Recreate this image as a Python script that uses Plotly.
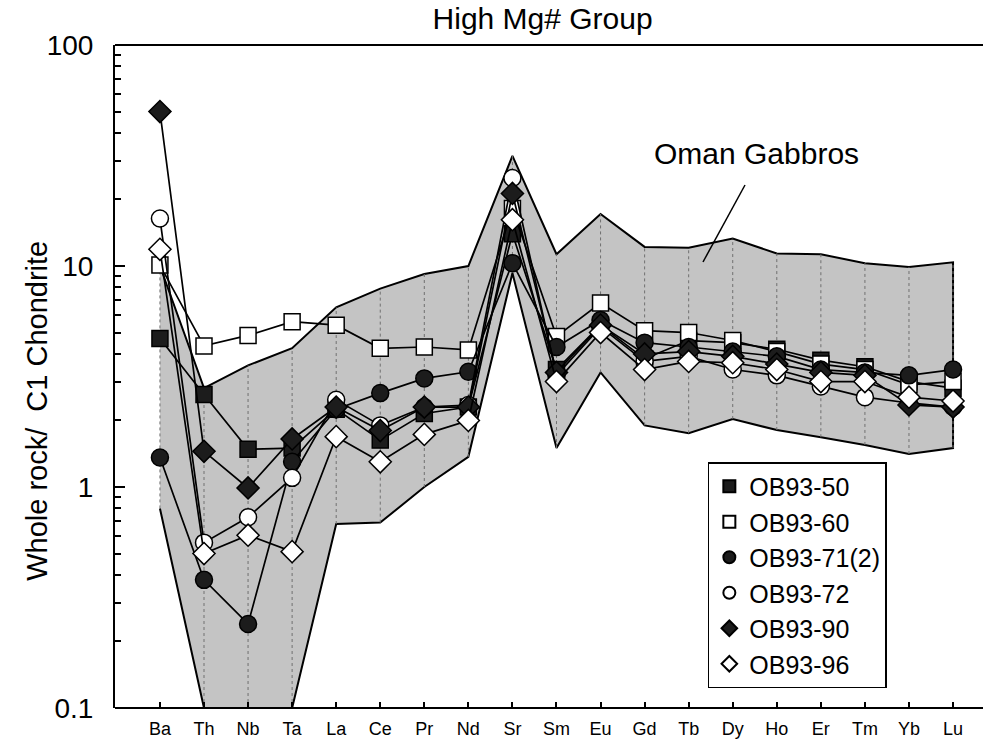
import plotly.graph_objects as go

# Chondrite-normalised trace-element patterns, High Mg# group
elements = ["Ba", "Th", "Nb", "Ta", "La", "Ce", "Pr", "Nd", "Sr", "Sm",
            "Eu", "Gd", "Tb", "Dy", "Ho", "Er", "Tm", "Yb", "Lu"]

# Oman gabbro envelope (upper and lower bounds)
oman_upper = [10.0, 2.8, 3.55, 4.25, 6.5, 7.9, 9.2, 10.0, 31.5, 11.3,
              17.2, 12.2, 12.1, 13.3, 11.4, 11.3, 10.3, 9.9, 10.4]
oman_lower = [0.8, 0.1, 0.1, 0.1, 0.68, 0.69, 1.0, 1.37, 9.3, 1.5,
              3.3, 1.9, 1.75, 2.03, 1.81, 1.68, 1.55, 1.41, 1.5]

ob93_50 = [4.7, 2.62, 1.48, 1.5, 2.25, 1.63, 2.15, 2.3, 14.0, 3.4,
           5.4, 3.8, 4.6, 4.5, 4.2, 3.75, 3.5, 3.0, 2.8]
ob93_60 = [10.1, 4.35, 4.85, 5.6, 5.4, 4.24, 4.3, 4.17, 18.2, 4.8,
           6.8, 5.1, 5.0, 4.6, 4.1, 3.6, 3.4, 2.9, 3.0]
ob93_71_2 = [1.36, 0.38, 0.24, 1.3, 2.25, 2.66, 3.1, 3.32, 10.3, 4.3,
             5.7, 4.5, 4.3, 4.1, 3.9, 3.4, 3.3, 3.2, 3.4]
ob93_72 = [16.4, 0.56, 0.73, 1.1, 2.48, 1.9, 2.3, 2.35, 25.0, 3.2,
           5.3, 3.7, 3.9, 3.4, 3.2, 2.85, 2.55, 2.4, 2.3]
ob93_90 = [50.0, 1.45, 0.99, 1.65, 2.3, 1.8, 2.3, 2.3, 21.3, 3.3,
           5.4, 4.0, 4.1, 3.9, 3.6, 3.3, 3.2, 2.35, 2.3]
ob93_96 = [11.9, 0.5, 0.605, 0.51, 1.69, 1.3, 1.73, 2.0, 16.2, 3.0,
           5.0, 3.4, 3.7, 3.65, 3.4, 3.0, 3.0, 2.55, 2.45]

samples = [
    ("OB93-50", ob93_50, "square", "#1c1c1c"),
    ("OB93-60", ob93_60, "square", "white"),
    ("OB93-71(2)", ob93_71_2, "circle", "#1c1c1c"),
    ("OB93-72", ob93_72, "circle", "white"),
    ("OB93-90", ob93_90, "diamond", "#1c1c1c"),
    ("OB93-96", ob93_96, "diamond", "white"),
]
marker_size = {"square": 16, "circle": 17, "diamond": 17}

FONT = "Liberation Sans, Arial, Helvetica, sans-serif"
BAND_FILL = "#c4c4c4"

fig = go.Figure()

# Envelope polygon: upper bound left-to-right, lower bound back again
fig.add_trace(go.Scatter(
    x=elements + elements[::-1],
    y=oman_upper + oman_lower[::-1],
    mode="lines", fill="toself", fillcolor=BAND_FILL,
    line=dict(color="black", width=2),
    hoverinfo="skip", showlegend=False,
))

# Thin dotted verticals across the envelope at each element
for el, lo, hi in zip(elements, oman_lower, oman_upper):
    fig.add_trace(go.Scatter(
        x=[el, el], y=[lo, hi], mode="lines",
        line=dict(color="#707070", width=1, dash="dot"),
        hoverinfo="skip", showlegend=False,
    ))

# Sample patterns
for name, vals, sym, fill in samples:
    fig.add_trace(go.Scatter(
        x=elements, y=vals, mode="lines+markers", name=name,
        line=dict(color="black", width=1.7),
        marker=dict(symbol=sym, size=marker_size[sym], color=fill,
                    line=dict(color="black", width=1.5)),
        showlegend=False,
    ))

# Marker-only legend entries
for name, vals, sym, fill in samples:
    fig.add_trace(go.Scatter(
        x=[None], y=[None], mode="markers", name=name, legendgroup=name,
        marker=dict(symbol=sym, size=14, color=fill,
                    line=dict(color="black", width=1.5)),
    ))

minor_vals = ([k / 10 for k in range(2, 10)] + list(range(2, 10))
              + [k * 10 for k in range(2, 10)])

fig.update_layout(
    width=983, height=746,
    margin=dict(l=115, r=0, t=45, b=38),
    paper_bgcolor="white", plot_bgcolor="white",
    font=dict(family=FONT, color="black"),
    title=dict(text="High Mg# Group", x=0.552, xanchor="center",
               y=1 - 18 / 746, yanchor="middle", font=dict(size=30)),
    xaxis=dict(
        type="category", categoryorder="array", categoryarray=elements,
        range=[-1.02, 18.68], showgrid=False, zeroline=False,
        showline=False, mirror=False,
        ticks="inside", ticklen=6, tickwidth=1.5, tickcolor="black",
        tickfont=dict(size=18), ticklabelstandoff=8,
    ),
    yaxis=dict(
        type="log", range=[-1, 2], showgrid=False, zeroline=False,
        showline=True, linecolor="black", linewidth=2, mirror=False,
        tickvals=[0.1, 1, 10, 100], ticktext=["0.1", "1", "10", "100"],
        ticks="inside", ticklen=10, tickwidth=1.5, tickcolor="black",
        tickfont=dict(size=28), ticklabelstandoff=14,
        minor=dict(tickvals=minor_vals, ticks="inside", ticklen=6,
                   tickwidth=1.5, tickcolor="black", showgrid=False),
    ),
    legend=dict(
        x=0.683, y=0.371, xanchor="left", yanchor="top",
        bgcolor="white", bordercolor="black", borderwidth=1.5,
        font=dict(size=25), tracegroupgap=0, itemsizing="constant",
        itemwidth=30, traceorder="grouped",
    ),
    annotations=[
        dict(text="Whole rock/  C1 Chondrite", xref="paper", yref="paper",
             x=-0.09, y=0.448, textangle=-90, showarrow=False,
             xanchor="center", yanchor="middle", font=dict(size=29)),
        dict(text="Oman Gabbros", xref="paper", yref="paper",
             x=0.7385, y=0.837, showarrow=False,
             xanchor="center", yanchor="middle", font=dict(size=30)),
    ],
    shapes=[
        # frame lines along the top and bottom of the plotting area
        dict(type="line", xref="paper", yref="paper",
             x0=0, y0=1, x1=1, y1=1,
             line=dict(color="black", width=2)),
        dict(type="line", xref="paper", yref="paper",
             x0=0, y0=0, x1=1, y1=0,
             line=dict(color="black", width=2)),
        # leader from the envelope label into the band
        dict(type="line", xref="paper", yref="paper",
             x0=(745 - 115) / 868, y0=(708 - 185) / 663,
             x1=(703 - 115) / 868, y1=(708 - 262) / 663,
             line=dict(color="black", width=1.5)),
    ],
)

fig.write_html("out.html")
